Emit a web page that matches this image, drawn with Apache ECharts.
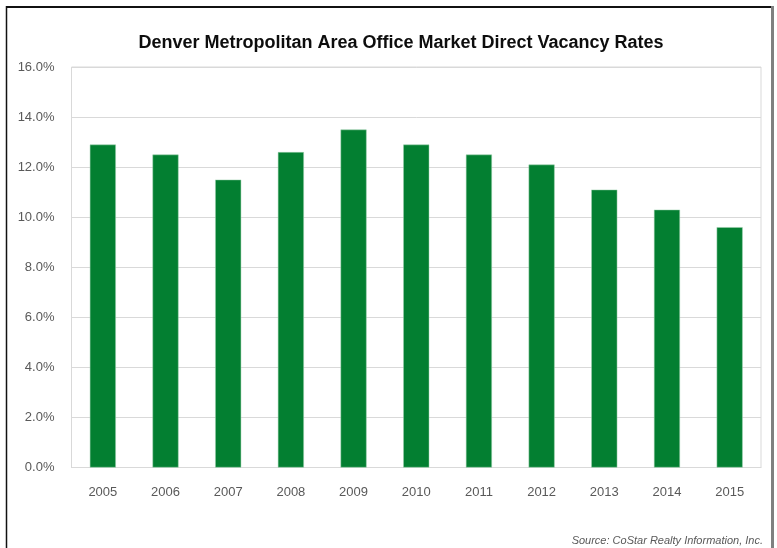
<!DOCTYPE html>
<html>
<head>
<meta charset="utf-8">
<script src="https://cdn.jsdelivr.net/npm/echarts@6/dist/echarts.min.js"></script>
<style>
html,body{margin:0;padding:0;background:#fff;}
#c{width:777px;height:548px;}
</style>
</head>
<body>
<div id="c"></div>
<script>
const titleText = 'Denver Metropolitan Area Office Market Direct Vacancy Rates';
const sourceText = 'Source: CoStar Realty Information, Inc.';
const years = ['2005','2006','2007','2008','2009','2010','2011','2012','2013','2014','2015'];
const vacancy = [12.9, 12.5, 11.5, 12.6, 13.5, 12.9, 12.5, 12.1, 11.1, 10.3, 9.6];
const yTicks = [0, 2, 4, 6, 8, 10, 12, 14, 16];

const chart = echarts.init(document.getElementById('c'), null, {renderer: 'canvas'});
const font = '"Liberation Sans Narrow", "Liberation Sans", sans-serif';
chart.setOption({
  backgroundColor: '#ffffff',
  animation: false,
  title: {
    text: titleText,
    left: 396,
    top: 29,
    textAlign: 'center',
    textStyle: {fontFamily: 'Liberation Sans', fontWeight: 'bold', fontSize: 18, color: '#0d0d0d'}
  },
  grid: {
    left: 71.5, right: 16, top: 67, bottom: 80.5,
    show: true, borderColor: '#d9d9d9', borderWidth: 1
  },
  xAxis: {
    type: 'category',
    data: years,
    axisLine: {show: true, lineStyle: {color: '#d9d9d9'}},
    axisTick: {show: false},
    axisLabel: {margin: 18, fontSize: 13, fontFamily: font, color: '#595959'}
  },
  yAxis: {
    type: 'value',
    min: yTicks[0],
    max: yTicks[yTicks.length - 1],
    interval: 2,
    axisLine: {show: false},
    axisTick: {show: false},
    splitLine: {lineStyle: {color: '#d9d9d9', width: 1}},
    axisLabel: {
      margin: 17, fontSize: 13, fontFamily: font, color: '#595959',
      formatter: v => v.toFixed(1) + '%'
    }
  },
  series: [{
    type: 'bar',
    data: vacancy,
    barWidth: 26,
    itemStyle: {color: '#037f31', borderColor: '#9fd0ae', borderWidth: 0.5}
  }],
  graphic: [
    {type: 'line', shape: {x1: 6, y1: 7, x2: 774, y2: 7}, style: {stroke: '#111', lineWidth: 2}},
    {type: 'line', shape: {x1: 6.5, y1: 6, x2: 6.5, y2: 548}, style: {stroke: '#111', lineWidth: 1.5}},
    {type: 'line', shape: {x1: 772.5, y1: 6, x2: 772.5, y2: 548}, style: {stroke: '#808080', lineWidth: 3}},
    {type: 'text', right: 14, top: 535,
     style: {text: sourceText, font: 'italic 11px "Liberation Sans Narrow", "Liberation Sans", sans-serif', fill: '#595959'}}
  ]
});
</script>
</body>
</html>
